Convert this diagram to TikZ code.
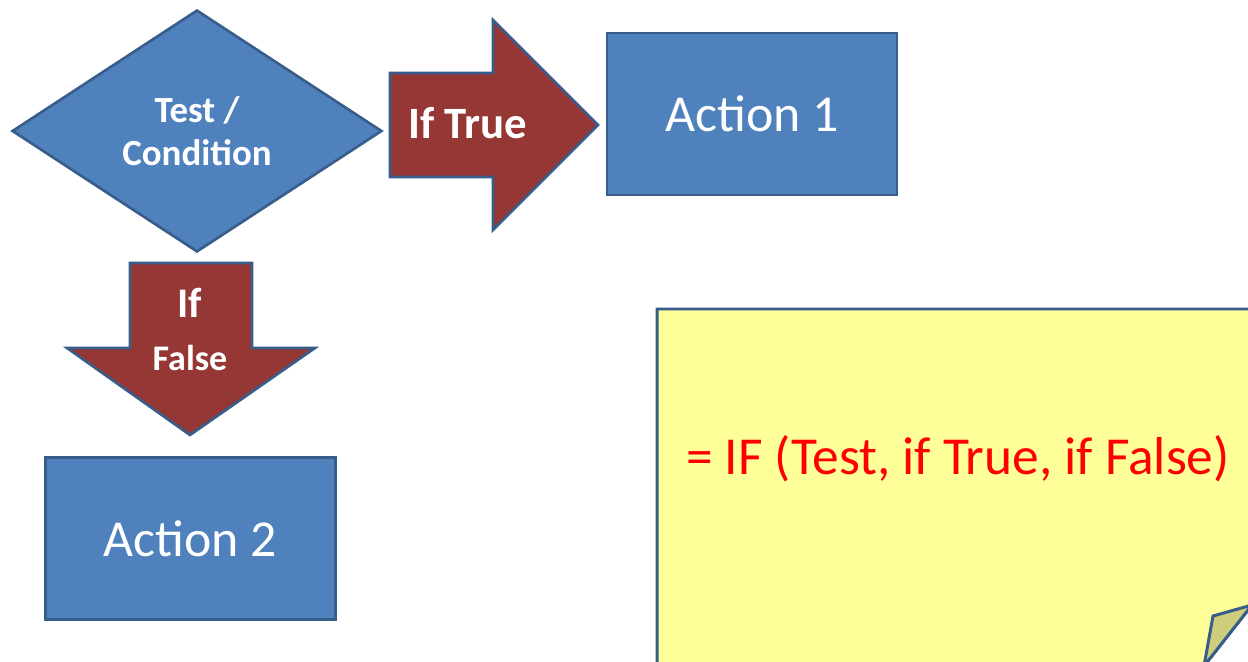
\documentclass[tikz,border=0pt]{standalone}
\usepackage{fontspec}
\setmainfont{Carlito}
\usetikzlibrary{shapes.geometric}
\definecolor{boxblue}{HTML}{4F81BD}
\definecolor{boxedge}{HTML}{385D8A}
\definecolor{arrowred}{HTML}{953735}
\definecolor{noteyellow}{HTML}{FFFF99}
\definecolor{notefold}{HTML}{CDCD7C}

\begin{document}
\begin{tikzpicture}
      [x=0.02cm, y=-0.02cm,
      test/.style={diamond, draw=boxedge, line width=1.5pt, fill=boxblue,
        inner sep=0pt, minimum width=7.4cm, minimum height=4.84cm,
        align=center, text=white, font=\bfseries\fontsize{21}{24.5}\selectfont},
      action/.style={rectangle, draw=boxedge, line width=1.5pt, fill=boxblue,
        minimum width=5.8cm, minimum height=3.24cm,
        text=white, font=\fontsize{29.5}{34}\selectfont},
      blockarrow/.style={draw=boxedge, line width=1.5pt, fill=arrowred},
      label/.style={inner sep=0pt, text=white,
        font=\bfseries\fontsize{25.5}{30}\selectfont},
      note/.style={draw=boxedge, line width=1.7pt, fill=noteyellow},
      formula/.style={inner sep=0pt, text=red, font=\fontsize{30.4}{35}\selectfont}]
      \useasboundingbox (0,0) rectangle (1248,662);
      \clip (0,0) rectangle (1248,662);
      % Sticky note
      \draw [note] (657,309) -- (1252,309) -- (1252,605) -- (1204,666)
        -- (657,666) -- cycle;
      \draw [note, fill=notefold] (1204,666) -- (1213,616) -- (1252,605) -- cycle;
      \node [formula] (formula) at (958,459) {= IF (Test, if True, if False)};
      % Place nodes
      \node [test] (test) at (197,131) {Test /\\Condition};
      \node [action] (act1) at (752,114) {Action 1};
      \node [action] (act2) at (190.5,538.5) {Action 2};
      % Block arrows
      \draw [blockarrow] (390,73) -- (493,73) -- (493,20) -- (598,125)
        -- (493,230) -- (493,177) -- (390,177) -- cycle;
      \draw [blockarrow] (130,263) -- (252,263) -- (252,348) -- (315,348)
        -- (190,435) -- (67,348) -- (130,348) -- cycle;
      \node [label] (iftrue) at (468,123) {If True};
      \node [label, font=\bfseries\fontsize{24}{28}\selectfont] (if) at (190,303) {If};
      \node [label, font=\bfseries\fontsize{20.5}{24}\selectfont] (iffalse) at (190,358) {False};
\end{tikzpicture}
\end{document}
